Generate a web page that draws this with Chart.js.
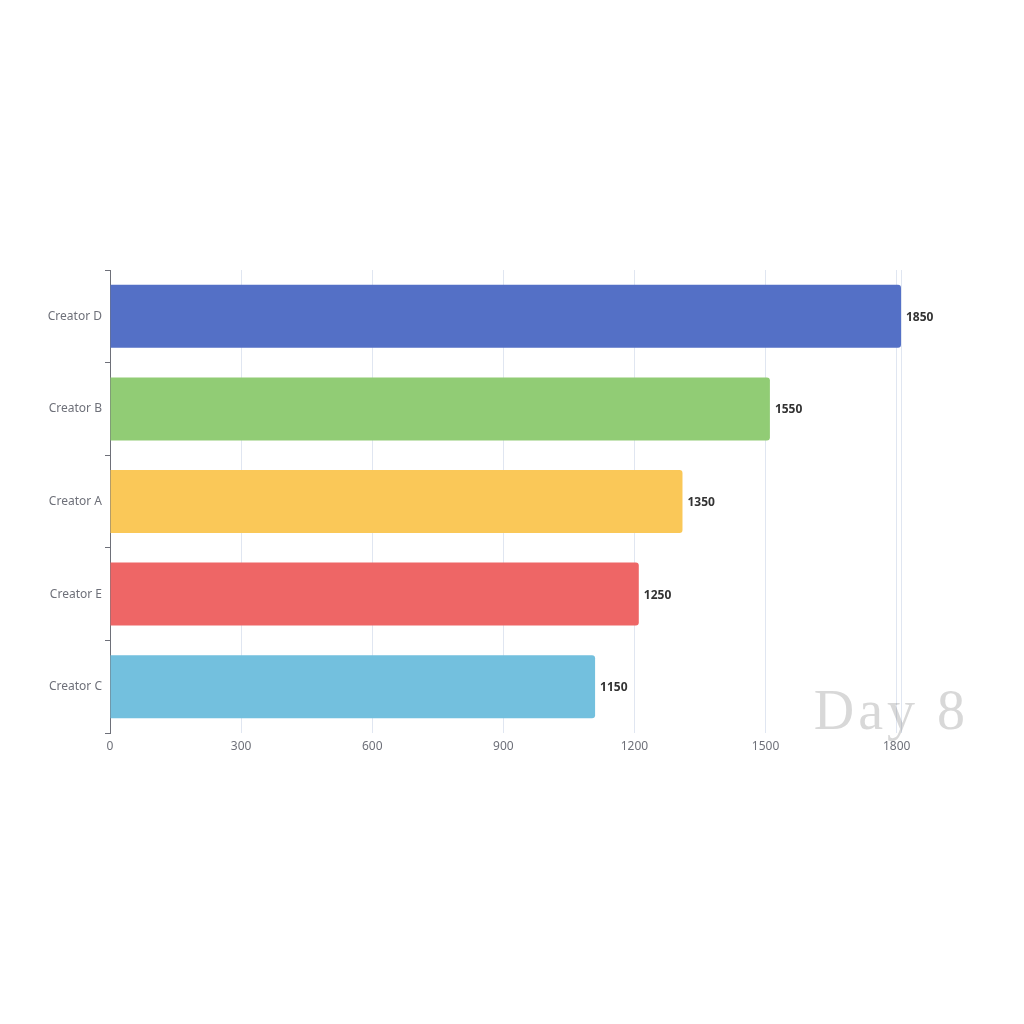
<!DOCTYPE html>
<html>
<head>
<meta charset="utf-8">
<script src="https://cdn.jsdelivr.net/npm/chart.js@4"></script>
<style>
  html, body { margin: 0; padding: 0; background: #fff; }
  #wrap { width: 1024px; height: 1024px; }
</style>
</head>
<body>
<div id="wrap"><canvas id="raceChart"></canvas></div>
<script>
// frame "Day 8" of the race: bars are still growing toward their labels
const creators = ['Creator D', 'Creator B', 'Creator A', 'Creator E', 'Creator C'];
const barValues = [1810, 1510, 1310, 1210, 1110];
const labelValues = [1850, 1550, 1350, 1250, 1150];
const barColors = ['#5470c6', '#91cc75', '#fac858', '#ee6666', '#73c0de'];
const xTicks = [0, 300, 600, 900, 1200, 1500, 1800];
const xMax = 1810;
const dayLabel = 'Day 8';

const valueLabels = {
    id: 'valueLabels',
    afterDatasetsDraw(chart) {
        const ctx = chart.ctx;
        const meta = chart.getDatasetMeta(0);
        ctx.save();
        ctx.font = 'bold 12px "Noto Sans", sans-serif';
        ctx.fillStyle = '#333';
        ctx.textAlign = 'left';
        ctx.textBaseline = 'middle';
        meta.data.forEach((bar, i) => {
            ctx.fillText(String(labelValues[i]), bar.x + 5, bar.y + 1);
        });
        ctx.restore();
    },
    afterDraw(chart) {
        const ctx = chart.ctx;
        ctx.save();
        ctx.font = '56px "Liberation Serif", serif';
        ctx.letterSpacing = '4px';
        ctx.fillStyle = 'rgba(100,100,100,0.25)';
        ctx.textAlign = 'right';
        ctx.textBaseline = 'alphabetic';
        ctx.fillText(dayLabel, 969, 729);
        ctx.restore();
    }
};

new Chart(document.getElementById('raceChart'), {
    type: 'bar',
    data: {
        labels: creators,
        datasets: [{
            data: barValues,
            backgroundColor: barColors,
            borderRadius: { topRight: 3, bottomRight: 3, topLeft: 0, bottomLeft: 0 },
            borderSkipped: 'start',
            barPercentage: 0.68,
            categoryPercentage: 1
        }]
    },
    options: {
        indexAxis: 'y',
        responsive: true,
        maintainAspectRatio: false,
        animation: false,
        layout: { padding: { top: 270, right: 123, bottom: 261, left: 0 } },
        plugins: {
            legend: { display: false },
            tooltip: { enabled: false }
        },
        scales: {
            x: {
                type: 'linear',
                min: 0,
                max: xMax,
                afterBuildTicks: (scale) => {
                    scale.ticks = xTicks.map(v => ({ value: v })).concat([{ value: xMax }]);
                },
                afterFit: (scale) => { scale.height = 30; },
                border: { display: false },
                grid: { color: '#E0E6F1', drawTicks: false, lineWidth: 1 },
                ticks: {
                    padding: 6,
                    color: '#6E7079',
                    font: { size: 12, family: '"Noto Sans", sans-serif' },
                    callback: (v) => (xTicks.includes(v) ? String(v) : ''),
                    maxRotation: 0,
                    autoSkip: false
                }
            },
            y: {
                afterFit: (scale) => { scale.width = 110; },
                border: { display: true, color: '#6E7079', width: 1 },
                grid: {
                    offset: true,
                    drawOnChartArea: false,
                    drawTicks: true,
                    tickLength: 5,
                    color: '#6E7079'
                },
                ticks: {
                    padding: 3,
                    color: '#6E7079',
                    font: { size: 12, family: '"Noto Sans", sans-serif' }
                }
            }
        }
    },
    plugins: [valueLabels]
});
</script>
</body>
</html>
